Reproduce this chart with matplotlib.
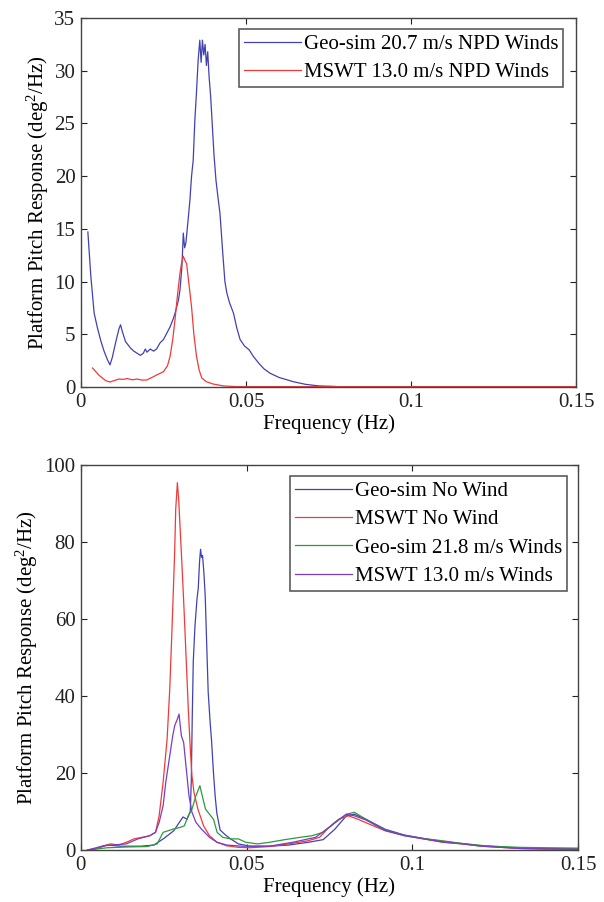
import numpy as np
import matplotlib
matplotlib.use("Agg")
import matplotlib.pyplot as plt

plt.rcParams["font.family"] = ["Liberation Serif", "DejaVu Serif"]
plt.rcParams["font.size"] = 15

# ---- top panel: NPD winds ----
f_geo_npd = [0.0021, 0.0030, 0.0040, 0.0050, 0.0060, 0.0070, 0.0080, 0.0088, 0.0095, 0.0105,
             0.0115, 0.0120, 0.0125, 0.0135, 0.0150, 0.0160, 0.0170, 0.0180, 0.0189, 0.0195,
             0.0200, 0.0210, 0.0220, 0.0229, 0.0240, 0.0250, 0.0260, 0.0270, 0.0280, 0.0285,
             0.0295, 0.0300, 0.0306, 0.0310, 0.0314, 0.0318, 0.0325, 0.0330, 0.0335, 0.0340,
             0.0345, 0.0350, 0.0355, 0.0360, 0.0364, 0.0368, 0.0372, 0.0376, 0.0380, 0.0384,
             0.0388, 0.0393, 0.0397, 0.0403, 0.0409, 0.0415, 0.0421, 0.0430, 0.0436, 0.0442,
             0.0450, 0.0462, 0.0472, 0.0482, 0.0495, 0.0510, 0.0522, 0.0540, 0.0555, 0.0573,
             0.0600, 0.0643, 0.0680, 0.0720, 0.0770, 0.0780, 0.1500]
p_geo_npd = [14.7, 10.5, 7.0, 5.6, 4.4, 3.4, 2.6, 2.1, 2.8, 4.2,
             5.5, 5.9, 5.3, 4.3, 3.7, 3.4, 3.2, 3.0, 3.2, 3.6,
             3.3, 3.6, 3.4, 3.6, 4.2, 4.5, 5.1, 5.7, 6.5, 7.0,
             8.2, 9.2, 11.5, 14.6, 13.2, 13.7, 16.0, 17.7, 20.0, 21.5,
             25.3, 28.0, 31.0, 32.9, 30.8, 32.9, 31.5, 32.5, 30.5, 31.8,
             29.5, 27.5, 25.3, 22.0, 19.6, 18.0, 16.5, 12.5, 10.0, 8.9,
             8.0, 7.0, 5.6, 4.5, 3.9, 3.5, 2.9, 2.2, 1.7, 1.3,
             0.9, 0.5, 0.25, 0.1, 0.05, 0.02, 0.02]

f_mswt_npd = [0.0035, 0.0055, 0.0075, 0.0088, 0.0100, 0.0115, 0.0128, 0.0140, 0.0155, 0.0170,
              0.0185, 0.0199, 0.0215, 0.0230, 0.0250, 0.0262, 0.0270, 0.0278, 0.0285, 0.0292,
              0.0300, 0.0305, 0.0310, 0.0315, 0.0320, 0.0327, 0.0335, 0.0342, 0.0350, 0.0358,
              0.0366, 0.0380, 0.0400, 0.0431, 0.0470, 0.1500]
p_mswt_npd = [1.8, 1.1, 0.6, 0.47, 0.6, 0.75, 0.72, 0.8, 0.68, 0.75,
              0.65, 0.66, 0.9, 1.15, 1.45, 2.0, 2.9, 4.5, 6.4, 8.6,
              10.8, 11.8, 12.4, 12.0, 11.7, 9.8, 7.6, 5.0, 2.9, 1.6,
              0.85, 0.5, 0.28, 0.1, 0.03, 0.03]

# ---- bottom panel: no wind vs. winds ----
f_mswt_nw = [0.002, 0.0044, 0.0068, 0.009, 0.0114, 0.0137, 0.016, 0.0184, 0.0207, 0.0225,
             0.0236, 0.0248, 0.026, 0.0268, 0.0274, 0.0279, 0.0283, 0.0286, 0.0291, 0.0295,
             0.030, 0.0306, 0.0312, 0.0318, 0.0324, 0.033, 0.0335, 0.0341, 0.0353, 0.037,
             0.0388, 0.0411, 0.044, 0.0475, 0.051, 0.0568, 0.0627, 0.0685, 0.072, 0.0743,
             0.0778, 0.0807, 0.0836, 0.0871, 0.0918, 0.0976, 0.1034, 0.1092, 0.115, 0.1209,
             0.1267, 0.1325, 0.1383, 0.15]
p_mswt_nw = [0.0, 0.3, 1.1, 1.6, 1.3, 2.0, 2.9, 3.3, 3.7, 4.6,
             8.9, 17.6, 28.8, 41.8, 55.6, 67.7, 78.0, 88.5, 95.4, 91.0,
             82.4, 72.0, 60.8, 48.7, 36.6, 26.2, 19.3, 15.0, 10.6, 6.3,
             3.7, 2.0, 1.1, 0.7, 0.6, 0.9, 1.6, 2.4, 3.3, 5.4,
             8.0, 8.9, 8.0, 6.7, 5.0, 3.7, 2.9, 2.0, 1.6, 1.0,
             0.7, 0.4, 0.3, 0.2]

f_geo_nw = [0.002, 0.005, 0.008, 0.012, 0.018, 0.022, 0.025, 0.028, 0.0308, 0.032,
            0.033, 0.0333, 0.0336, 0.0339, 0.0344, 0.0350, 0.0354, 0.0358, 0.0361, 0.0364,
            0.0367, 0.0371, 0.0375, 0.0380, 0.0384, 0.0390, 0.0394, 0.0400, 0.0405, 0.0410,
            0.0420, 0.0435, 0.0450, 0.0475, 0.051, 0.0568, 0.0627, 0.0685, 0.0731, 0.0766,
            0.0801, 0.0825, 0.086, 0.0918, 0.0976, 0.1034, 0.1092, 0.115, 0.1209, 0.1267,
            0.1325, 0.1383, 0.15]
p_geo_nw = [0.0, 0.5, 1.3, 1.0, 1.0, 1.3, 3.0, 5.0, 8.6, 8.0,
            10.0, 18.0, 35.0, 49.0, 58.0, 65.0, 68.0, 75.0, 78.1, 76.0,
            76.5, 72.0, 66.0, 52.0, 41.0, 33.0, 28.6, 20.0, 14.0, 9.6,
            5.2, 4.0, 3.0, 1.6, 1.0, 1.0, 1.3, 2.0, 2.7, 5.4,
            8.9, 9.3, 8.0, 5.4, 3.9, 3.0, 2.2, 1.7, 1.1, 0.8,
            0.5, 0.4, 0.3]

f_geo_w = [0.002, 0.008, 0.014, 0.020, 0.023, 0.0248, 0.0277, 0.030, 0.0312, 0.0324,
           0.0335, 0.0347, 0.0359, 0.0366, 0.0376, 0.0388, 0.040, 0.0411, 0.0428, 0.0452,
           0.0475, 0.0498, 0.0533, 0.0568, 0.0615, 0.0661, 0.0696, 0.0731, 0.0766, 0.0801,
           0.0825, 0.086, 0.0918, 0.0976, 0.1034, 0.1092, 0.115, 0.1209, 0.1267, 0.1325,
           0.14, 0.15]
p_geo_w = [0.0, 0.6, 0.8, 0.9, 1.6, 4.6, 5.4, 5.9, 6.3, 8.9,
           10.6, 14.1, 16.7, 14.1, 10.6, 9.3, 8.0, 4.6, 3.3, 2.9,
           2.9, 2.0, 1.6, 2.0, 2.7, 3.3, 3.7, 4.6, 7.2, 9.3,
           9.8, 8.0, 5.2, 3.8, 3.0, 2.4, 1.7, 1.2, 0.9, 0.7,
           0.6, 0.5]

f_mswt_w = [0.002, 0.0068, 0.0137, 0.0172, 0.0207, 0.0225, 0.0236, 0.0248, 0.0256, 0.0271,
            0.0277, 0.0283, 0.0291, 0.0296, 0.0303, 0.031, 0.0318, 0.0326, 0.0335, 0.0347,
            0.0364, 0.0388, 0.0411, 0.044, 0.0487, 0.0568, 0.0638, 0.0708, 0.0755, 0.0801,
            0.0825, 0.086, 0.0918, 0.0976, 0.1034, 0.1092, 0.115, 0.1209, 0.1267, 0.1325,
            0.1383, 0.15]
p_mswt_w = [0.0, 1.1, 1.6, 2.9, 3.7, 4.6, 7.2, 11.5, 17.6, 26.2,
            29.7, 32.3, 34.0, 35.3, 29.7, 27.9, 21.0, 14.1, 9.8, 7.2,
            5.4, 3.3, 2.0, 1.3, 1.0, 1.0, 2.0, 3.3, 6.3, 9.3,
            8.9, 7.8, 5.1, 3.8, 2.9, 2.1, 1.6, 1.0, 0.7, 0.4,
            0.3, 0.2]

blue = "#4141b4"
red = "#f03a3a"
green = "#2e9a3a"
purple = "#7a3cc8"
ylab = "Platform Pitch Response (deg$^2$/Hz)"
plt.rcParams["mathtext.fontset"] = "custom"
plt.rcParams["mathtext.rm"] = "Liberation Serif"
plt.rcParams["mathtext.it"] = "Liberation Serif:italic"
plt.rcParams["mathtext.default"] = "rm"

fig = plt.figure(figsize=(6.04, 9.02), dpi=100)
ax1 = fig.add_axes([0.134, 0.571, 0.820, 0.409])
ax2 = fig.add_axes([0.134, 0.0576, 0.823, 0.4269])

ax1.plot(f_geo_npd, p_geo_npd, color=blue, lw=0.9, label="Geo-sim 20.7 m/s NPD Winds")
ax1.plot(f_mswt_npd, p_mswt_npd, color=red, lw=0.9, label="MSWT 13.0 m/s NPD Winds")
ax1.set_ylim(0, 35)
ax1.set_yticks(range(0, 36, 5))

ax2.plot(f_geo_nw, p_geo_nw, color=blue, lw=0.9, label="Geo-sim No Wind")
ax2.plot(f_mswt_nw, p_mswt_nw, color=red, lw=0.9, label="MSWT No Wind")
ax2.plot(f_geo_w, p_geo_w, color=green, lw=0.9, label="Geo-sim 21.8 m/s Winds")
ax2.plot(f_mswt_w, p_mswt_w, color=purple, lw=0.9, label="MSWT 13.0 m/s Winds")
ax2.set_ylim(0, 100)
ax2.set_yticks(range(0, 101, 20))

for ax, anchor, lx in ((ax1, (0.974, 0.970), -0.061), (ax2, (0.978, 0.971), -0.082)):
    ax.set_xlim(0, 0.15)
    ax.set_xticks([0, 0.05, 0.1, 0.15])
    ax.set_xticklabels(["0", "0.05", "0.1", "0.15"])
    ax.tick_params(direction="in", length=4, width=0.8, top=True, right=True,
                   colors="#222222", labelsize=15, pad=4)
    for s in ax.spines.values():
        s.set_color("#444444")
        s.set_linewidth(1.0)
    ax.set_xlabel("Frequency (Hz)", fontsize=15, labelpad=2)
    ax.set_ylabel(ylab, fontsize=15)
    ax.yaxis.set_label_coords(lx, 0.5)
    leg = ax.legend(loc="upper right", bbox_to_anchor=anchor, fancybox=False,
                    handlelength=2.7, handletextpad=0.15, labelspacing=0.42,
                    borderpad=0.25, borderaxespad=0, fontsize=15)
    leg.get_frame().set_edgecolor("#333333")
    leg.get_frame().set_linewidth(1.2)

fig.savefig("out.png", dpi=100)
